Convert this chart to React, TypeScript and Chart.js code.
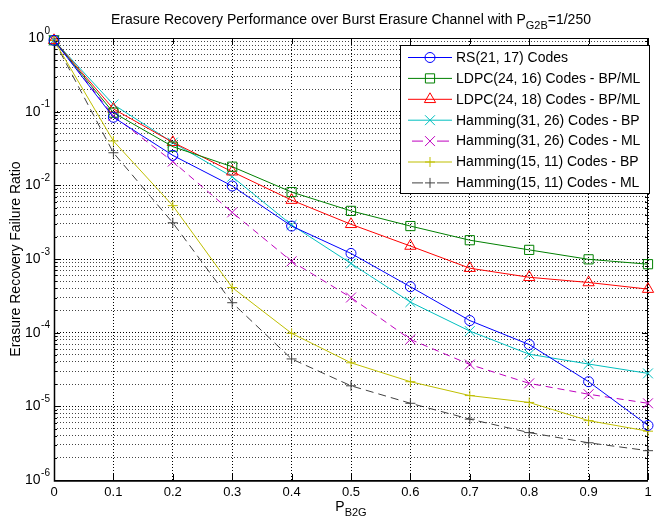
import { useEffect, useRef } from "react";
import { Chart, registerables } from "chart.js";

Chart.register(...registerables);

// ---------------- data ----------------
const X_VALUES = [0, 0.1, 0.2, 0.3, 0.4, 0.5, 0.6, 0.7, 0.8, 0.9, 1.0];
const X_TICK_LABELS = ["0", "0.1", "0.2", "0.3", "0.4", "0.5", "0.6", "0.7", "0.8", "0.9", "1"];
const Y_DECADE_EXPONENTS = [0, -1, -2, -3, -4, -5, -6];

const SERIES_LABELS = [
  "RS(21, 17) Codes",
  "LDPC(24, 16) Codes - BP/ML",
  "LDPC(24, 18) Codes - BP/ML",
  "Hamming(31, 26) Codes - BP",
  "Hamming(31, 26) Codes - ML",
  "Hamming(15, 11) Codes - BP",
  "Hamming(15, 11) Codes - ML",
];

const RS_21_17 = [0.93, 0.084, 0.0255, 0.0098, 0.0028, 0.00119, 0.00042, 0.000146, 0.000069, 0.0000216, 0.0000055];
const LDPC_24_16 = [0.93, 0.097, 0.0335, 0.0179, 0.0081, 0.0045, 0.0028, 0.0018, 0.00133, 0.00099, 0.00085];
const LDPC_24_18 = [0.93, 0.109, 0.0384, 0.0153, 0.0063, 0.00296, 0.0015, 0.00075, 0.000565, 0.00048, 0.00039];
const HAMMING_31_26_BP = [0.93, 0.125, 0.038, 0.0131, 0.0029, 0.00087, 0.00026, 0.000105, 0.000051, 0.0000375, 0.000028];
const HAMMING_31_26_ML = [0.93, 0.088, 0.021, 0.0043, 0.00093, 0.0003, 0.000081, 0.000037, 0.0000205, 0.0000146, 0.000011];
const HAMMING_15_11_BP = [0.93, 0.04, 0.0053, 0.00041, 0.000098, 0.000039, 0.0000216, 0.000014, 0.0000113, 0.0000064, 0.0000046];
const HAMMING_15_11_ML = [0.93, 0.0277, 0.0031, 0.000255, 0.000044, 0.000019, 0.000011, 0.0000067, 0.0000044, 0.0000032, 0.0000025];

const SERIES_VALUES = [
  RS_21_17,
  LDPC_24_16,
  LDPC_24_18,
  HAMMING_31_26_BP,
  HAMMING_31_26_ML,
  HAMMING_15_11_BP,
  HAMMING_15_11_ML,
];

const TITLE_MAIN = "Erasure Recovery Performance over Burst Erasure Channel with P";
const TITLE_SUB = "G2B";
const TITLE_TAIL = "=1/250";
const X_TITLE_MAIN = "P";
const X_TITLE_SUB = "B2G";
const Y_TITLE = "Erasure Recovery Failure Ratio";

// ---------------- styles ----------------
type Marker = "circle" | "rect" | "triangle" | "crossRot" | "cross";
const SERIES_STYLES: { color: string; dash: number[]; marker: Marker; radius: number }[] = [
  { color: "#0000ff", dash: [], marker: "circle", radius: 5 },
  { color: "#008000", dash: [], marker: "rect", radius: 6.5 },
  { color: "#ff0000", dash: [], marker: "triangle", radius: 6.5 },
  { color: "#00bfbf", dash: [], marker: "crossRot", radius: 7 },
  { color: "#bf00bf", dash: [7, 5], marker: "crossRot", radius: 7 },
  { color: "#bfbf00", dash: [], marker: "cross", radius: 5 },
  { color: "#404040", dash: [8, 5], marker: "cross", radius: 5 },
];

const FONT = '"Liberation Sans", Arial, sans-serif';

function drawMarker(ctx: CanvasRenderingContext2D, m: Marker, x: number, y: number, r: number) {
  ctx.beginPath();
  if (m === "circle") {
    ctx.arc(x, y, r, 0, Math.PI * 2);
  } else if (m === "rect") {
    const s = r * Math.SQRT1_2;
    ctx.rect(x - s, y - s, 2 * s, 2 * s);
  } else if (m === "triangle") {
    ctx.moveTo(x, y - r);
    ctx.lineTo(x + r * 0.866, y + r * 0.5);
    ctx.lineTo(x - r * 0.866, y + r * 0.5);
    ctx.closePath();
  } else if (m === "crossRot") {
    const d = r * Math.SQRT1_2;
    ctx.moveTo(x - d, y - d);
    ctx.lineTo(x + d, y + d);
    ctx.moveTo(x + d, y - d);
    ctx.lineTo(x - d, y + d);
  } else {
    ctx.moveTo(x - r, y);
    ctx.lineTo(x + r, y);
    ctx.moveTo(x, y - r);
    ctx.lineTo(x, y + r);
  }
  ctx.stroke();
}

function drawWithSub(
  ctx: CanvasRenderingContext2D,
  main: string,
  sub: string,
  tail: string,
  cx: number,
  y: number,
  size: number
) {
  const mainFont = `${size}px ${FONT}`;
  const subFont = `${Math.round(size * 0.75)}px ${FONT}`;
  ctx.font = mainFont;
  const w1 = ctx.measureText(main).width;
  const w3 = ctx.measureText(tail).width;
  ctx.font = subFont;
  const w2 = ctx.measureText(sub).width;
  let x = cx - (w1 + w2 + w3) / 2;
  ctx.textAlign = "left";
  ctx.textBaseline = "alphabetic";
  ctx.font = mainFont;
  ctx.fillText(main, x, y);
  x += w1;
  ctx.font = subFont;
  ctx.fillText(sub, x, y + size * 0.35);
  x += w2;
  ctx.font = mainFont;
  ctx.fillText(tail, x, y);
}

const overlayPlugin = {
  id: "matlabOverlay",
  beforeDatasetsDraw(chart: any) {
    const ctx: CanvasRenderingContext2D = chart.ctx;
    const { left, right, top, bottom } = chart.chartArea;
    const xs = chart.scales.x;
    const ys = chart.scales.y;
    ctx.save();
    ctx.strokeStyle = "#000";
    ctx.lineWidth = 1;
    ctx.setLineDash([]);
    // frame
    ctx.beginPath();
    ctx.moveTo(Math.round(left) + 0.5, Math.round(top) + 0.5);
    ctx.lineTo(Math.round(right) - 0.5, Math.round(top) + 0.5);
    ctx.lineTo(Math.round(right) - 0.5, Math.round(bottom) + 0.5);
    ctx.lineTo(Math.round(left) + 0.5, Math.round(bottom) + 0.5);
    ctx.closePath();
    ctx.stroke();
    ctx.lineWidth = 1.5;
    ctx.beginPath();
    ctx.moveTo(Math.round(left) + 0.5, Math.round(top));
    ctx.lineTo(Math.round(left) + 0.5, Math.round(bottom) + 1);
    ctx.lineTo(Math.round(right), Math.round(bottom) + 1);
    ctx.stroke();
    ctx.lineWidth = 1;
    // x ticks (inward, bottom and top)
    ctx.beginPath();
    for (const v of X_VALUES) {
      const px = Math.round(xs.getPixelForValue(v)) + 0.5;
      ctx.moveTo(px, bottom);
      ctx.lineTo(px, bottom - 6);
      ctx.moveTo(px, top);
      ctx.lineTo(px, top + 6);
    }
    // y ticks (inward, left and right)
    for (const t of ys.ticks) {
      const py = Math.round(ys.getPixelForValue(t.value)) + 0.5;
      const mant = t.value / Math.pow(10, Math.floor(Math.log10(t.value) + 1e-9));
      const major = Math.abs(mant - 1) < 1e-6;
      const len = major ? 6 : 3;
      ctx.moveTo(left, py);
      ctx.lineTo(left + len, py);
      ctx.moveTo(right, py);
      ctx.lineTo(right - len, py);
    }
    ctx.stroke();
    ctx.restore();
  },
  afterDraw(chart: any) {
    const ctx: CanvasRenderingContext2D = chart.ctx;
    const { left, right, top, bottom } = chart.chartArea;
    const xs = chart.scales.x;
    const ys = chart.scales.y;
    const cx = (left + right) / 2;
    ctx.save();
    ctx.fillStyle = "#000";
    // title
    drawWithSub(ctx, TITLE_MAIN, TITLE_SUB, TITLE_TAIL, cx, 24, 14);
    // x tick labels
    ctx.font = `13px ${FONT}`;
    ctx.textAlign = "center";
    ctx.textBaseline = "middle";
    X_VALUES.forEach((v, i) => {
      ctx.fillText(X_TICK_LABELS[i], xs.getPixelForValue(v), bottom + 12);
    });
    // y tick labels: 10^e
    Y_DECADE_EXPONENTS.forEach((e) => {
      const py = ys.getPixelForValue(Math.pow(10, e));
      ctx.font = `10px ${FONT}`;
      ctx.textAlign = "left";
      ctx.textBaseline = "middle";
      const supW = ctx.measureText(String(e)).width;
      const supX = left - 4 - supW;
      ctx.fillText(String(e), supX, py - 7);
      ctx.font = `14px ${FONT}`;
      ctx.textAlign = "right";
      ctx.fillText("10", supX - 0.5, py);
    });
    // x title
    drawWithSub(ctx, X_TITLE_MAIN, X_TITLE_SUB, "", cx, bottom + 31, 14);
    // y title
    ctx.save();
    ctx.translate(16, (top + bottom) / 2);
    ctx.rotate(-Math.PI / 2);
    ctx.font = `14px ${FONT}`;
    ctx.textAlign = "center";
    ctx.textBaseline = "middle";
    ctx.fillText(Y_TITLE, 0, 0);
    ctx.restore();

    // legend
    const lx = 400.5, ly = 45.5, lw = 249, lh = 148;
    ctx.fillStyle = "#fff";
    ctx.fillRect(lx, ly, lw, lh);
    ctx.strokeStyle = "#000";
    ctx.lineWidth = 1;
    ctx.setLineDash([]);
    ctx.strokeRect(lx, ly, lw, lh);
    SERIES_LABELS.forEach((label, i) => {
      const st = SERIES_STYLES[i];
      const ry = 57.5 + i * 20.9;
      ctx.strokeStyle = st.color;
      ctx.lineWidth = 1;
      ctx.setLineDash([]);
      ctx.beginPath();
      if (st.dash.length) {
        ctx.moveTo(412, ry);
        ctx.lineTo(423, ry);
        ctx.moveTo(437, ry);
        ctx.lineTo(449, ry);
      } else {
        ctx.moveTo(408, ry);
        ctx.lineTo(452, ry);
      }
      ctx.stroke();
      drawMarker(ctx, st.marker, 430, ry, st.radius);
      ctx.fillStyle = "#000";
      ctx.font = `14px ${FONT}`;
      ctx.textAlign = "left";
      ctx.textBaseline = "middle";
      ctx.fillText(label, 456, ry + 0.5);
    });
    ctx.restore();
  },
};

function buildYTicks() {
  const ticks: { value: number }[] = [];
  for (let e = -6; e < 0; e++) {
    for (let m = 1; m <= 9; m++) ticks.push({ value: m * Math.pow(10, e) });
  }
  ticks.push({ value: 1 });
  return ticks;
}

export default function App() {
  const canvasRef = useRef<HTMLCanvasElement | null>(null);

  useEffect(() => {
    if (!canvasRef.current) return;
    const datasets = SERIES_LABELS.map((label, i) => {
      const st = SERIES_STYLES[i];
      return {
        label,
        data: X_VALUES.map((x, j) => ({ x, y: SERIES_VALUES[i][j] })),
        borderColor: st.color,
        borderWidth: 1,
        borderDash: st.dash,
        backgroundColor: "rgba(0,0,0,0)",
        pointStyle: st.marker,
        pointRadius: st.radius,
        pointHoverRadius: st.radius,
        pointBorderColor: st.color,
        pointBackgroundColor: "rgba(0,0,0,0)",
        pointBorderWidth: 1,
        tension: 0,
        fill: false,
        clip: false as any,
      };
    });

    const chart = new Chart(canvasRef.current, {
      type: "line",
      data: { datasets },
      options: {
        animation: false,
        responsive: false,
        devicePixelRatio: 1,
        layout: { padding: { left: 54, right: 1, top: 38, bottom: 41 } },
        plugins: {
          legend: { display: false },
          title: { display: false },
          tooltip: { enabled: false },
        },
        scales: {
          x: {
            type: "linear",
            min: 0,
            max: 1,
            afterBuildTicks: (scale: any) => {
              scale.ticks = X_VALUES.map((v) => ({ value: v }));
            },
            ticks: { display: false },
            grid: { color: "#000", lineWidth: 1, drawTicks: false },
            border: { display: false, dash: [1, 2] },
          },
          y: {
            type: "logarithmic",
            min: 1e-6,
            max: 1,
            afterBuildTicks: (scale: any) => {
              scale.ticks = buildYTicks();
            },
            ticks: { display: false },
            grid: {
              color: (c: any) => {
                const v = c.tick ? c.tick.value : 0;
                const mant = v / Math.pow(10, Math.floor(Math.log10(v) + 1e-9));
                return Math.abs(mant - 1) < 1e-6 ? "#000" : "#444";
              },
              lineWidth: 1,
              drawTicks: false,
            },
            border: { display: false, dash: [1, 2] },
          },
        },
      },
      plugins: [overlayPlugin],
    });
    return () => chart.destroy();
  }, []);

  return (
    <div style={{ position: "fixed", left: 0, top: 0, width: 656, height: 521, background: "#fff" }}>
      <canvas ref={canvasRef} width={656} height={521} style={{ display: "block" }} />
    </div>
  );
}
